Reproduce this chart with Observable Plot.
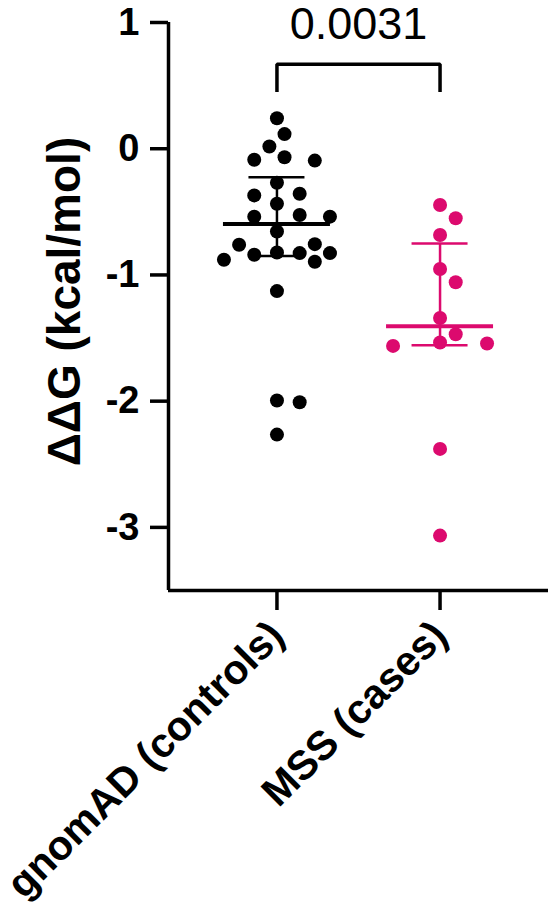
<!DOCTYPE html>
<html>
<head>
<meta charset="utf-8">
<script src="https://cdn.jsdelivr.net/npm/d3@7"></script>
<script src="https://cdn.jsdelivr.net/npm/@observablehq/plot@0.6"></script>
<style>
  html, body { margin: 0; padding: 0; background: #fff; }
  #chart svg { display: block; }
</style>
</head>
<body>
<div id="chart"></div>
<script>
// ΔΔG values per variant, by cohort
const groups = ["gnomAD (controls)", "MSS (cases)"];
const controls = [
  0.242, 0.116, 0.018, -0.068, -0.087, -0.094, -0.27, -0.357, -0.37, -0.436,
  -0.525, -0.538, -0.538, -0.656, -0.756, -0.761, -0.822, -0.827, -0.827, -0.84,
  -0.88, -0.895, -1.128, -1.995, -2.008, -2.265
];
const cases = [
  -0.446, -0.551, -0.683, -0.953, -1.058, -1.341, -1.47, -1.535, -1.543, -1.562,
  -2.378, -3.065
];
const groupColors = ["#000000", "#dc0a6e"];
const yTicks = [1, 0, -1, -2, -3];
const yLabel = "ΔΔG (kcal/mol)";
const pValue = "0.0031";

// layout
const W = 551, H = 922;
const margin = {top: 22, right: 3, bottom: 332, left: 168};
const yDomain = [-3.5, 1];
const xDomain = [-0.665, 1.665];
const font = "'Liberation Sans', Arial, Helvetica, sans-serif";

const xScale = Plot.scale({x: {domain: xDomain, range: [margin.left, W - margin.right]}});
const yScale = Plot.scale({y: {domain: yDomain, range: [H - margin.bottom, margin.top]}});
const pxPerX = xScale.apply(1) - xScale.apply(0);

// Prism-style quartiles: position (n + 1) * p
function quartile(values, p) {
  const s = values.slice().sort((a, b) => a - b);
  const n = s.length;
  const h = (n + 1) * p;
  const lo = Math.max(1, Math.min(n, Math.floor(h)));
  const hi = Math.min(n, lo + 1);
  return s[lo - 1] + (h - lo) * (s[hi - 1] - s[lo - 1]);
}

// column scatter: each dot takes a sideways slot (0, ±1, ±3, … half-steps);
// a depth-first search finds the most central arrangement without overlaps
const minGap = 17;
function place(py, order, half, kmax) {
  const h = half / kmax;
  const slots = [0];
  for (let k = 1; k <= kmax; k += 2) slots.push(k, -k);
  const off = new Array(py.length);
  let steps = 0;
  function fits(i, dx, upto) {
    for (let t = 0; t < upto; t++) {
      const j = order[t];
      if (Math.hypot(dx - off[j], py[i] - py[j]) < minGap) return false;
    }
    return true;
  }
  function visit(t) {
    if (t === order.length) return true;
    if (++steps > 100000) return false;
    const i = order[t];
    for (const s of slots) {
      const dx = s * h;
      if (!fits(i, dx, t)) continue;
      off[i] = dx;
      if (visit(t + 1)) return true;
    }
    return false;
  }
  return visit(0) ? off : null;
}
function swarm(values, cx) {
  const py = values.map(v => yScale.apply(v));
  const order = d3.range(values.length).sort((a, b) => py[a] - py[b]);
  for (let half = 47; half < 200; half += 3) {
    for (let kmax = 1; kmax <= 9; kmax += 2) {
      const off = place(py, order, half, kmax);
      if (off) return values.map((v, i) => ({x: xScale.invert(xScale.apply(cx) + off[i]), y: v}));
    }
  }
  return values.map(v => ({x: cx, y: v}));
}

const series = [controls, cases];
const marks = [];

series.forEach((vals, gi) => {
  const color = groupColors[gi];
  const med = d3.median(vals);
  const q1 = quartile(vals, 0.25);
  const q3 = quartile(vals, 0.75);
  marks.push(
    Plot.dot(swarm(vals, gi), {x: "x", y: "y", r: 7, fill: color, stroke: "none"}),
    Plot.ruleX([gi], {y1: q1, y2: q3, stroke: color, strokeWidth: 2.5}),
    Plot.ruleY([q1, q3], {x1: gi - 28 / pxPerX, x2: gi + 28 / pxPerX, stroke: color, strokeWidth: 2.5}),
    Plot.ruleY([med], {x1: gi - 53.5 / pxPerX, x2: gi + 53.5 / pxPerX, stroke: color, strokeWidth: 4})
  );
});

// significance bracket between the two cohorts
const bracketTop = 0.67, bracketFoot = 0.45, pLabelY = 0.873;
marks.push(
  Plot.line([[0, bracketFoot], [0, bracketTop], [1, bracketTop], [1, bracketFoot]],
    {x: d => d[0], y: d => d[1], stroke: "black", strokeWidth: 3.5, strokeLinejoin: "miter", strokeLinecap: "butt"}),
  Plot.text([pValue], {x: 0.5, y: pLabelY, text: d => d, lineAnchor: "bottom", fontSize: 45, fill: "black"})
);

// axes
marks.push(
  Plot.axisY(yTicks, {tickSize: 18, tickPadding: 11, tickFormat: d => String(d), fontSize: 38, fontWeight: "bold",
    strokeWidth: 3.5, label: null, fill: "black"}),
  Plot.axisX([0, 1], {tickSize: 20, tickPadding: 18, tickRotate: -45, tickFormat: i => groups[i], fontSize: 41,
    fontWeight: "bold", strokeWidth: 3.5, label: null, fill: "black"}),
  Plot.ruleX([xDomain[0]], {y1: yDomain[0], y2: yDomain[1], stroke: "black", strokeWidth: 3.5}),
  Plot.ruleY([yDomain[0]], {x1: xDomain[0], x2: xDomain[1], stroke: "black", strokeWidth: 3.5}),
  Plot.text([yLabel], {frameAnchor: "left", textAnchor: "middle", dx: -103, dy: -5, rotate: -90, text: d => d,
    fontSize: 46, fontWeight: "bold", fill: "black"})
);

const chart = Plot.plot({
  width: W,
  height: H,
  marginTop: margin.top,
  marginRight: margin.right,
  marginBottom: margin.bottom,
  marginLeft: margin.left,
  x: {domain: xDomain, axis: null},
  y: {domain: yDomain, axis: null},
  style: {fontFamily: font, background: "white", color: "black", overflow: "visible"},
  marks
});
document.getElementById("chart").appendChild(chart);
</script>
</body>
</html>
